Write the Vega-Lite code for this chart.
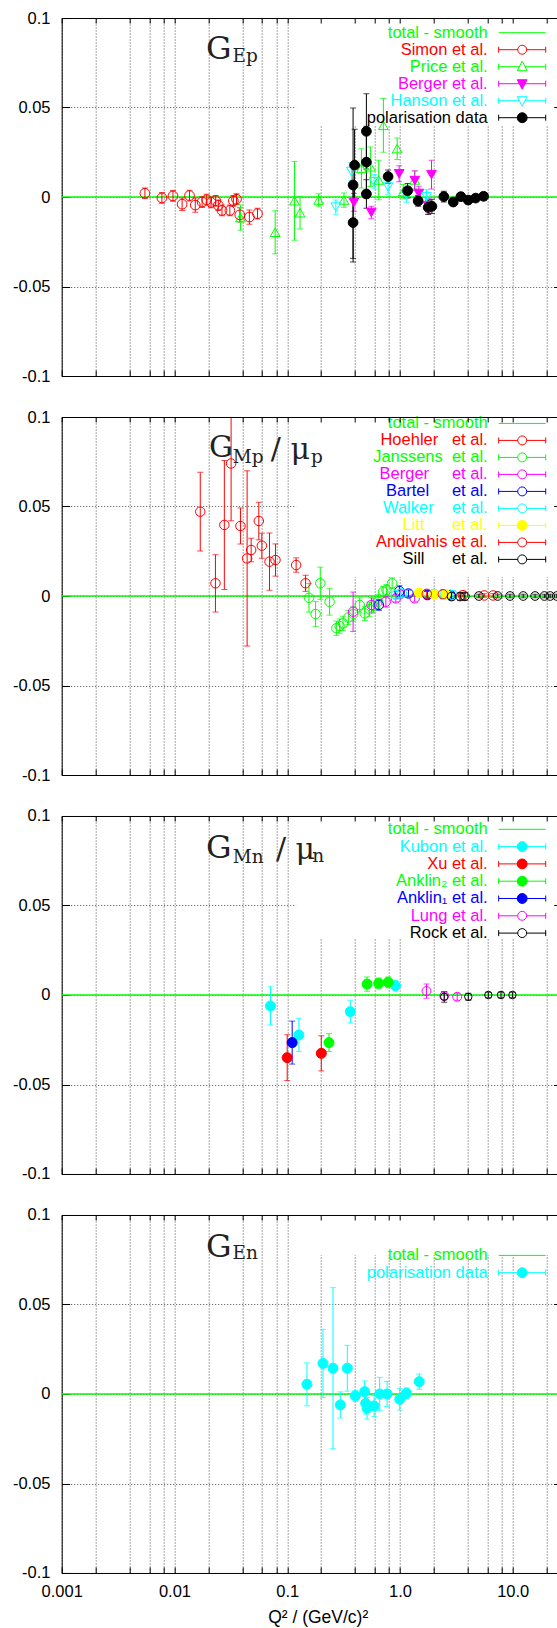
{
  "$schema": "https://vega.github.io/schema/vega-lite/v6.json",
  "padding": {"left": 11.7, "top": 10, "right": 0, "bottom": 1},
  "background": "white",
  "spacing": 41,
  "bounds": "flush",
  "resolve": {"scale": {"color": "independent", "stroke": "independent", "fill": "independent", "shape": "independent"}},
  "config": {
    "view": {"stroke": null},
    "axis": {"labelFont": "Liberation Sans", "labelFontSize": 16.5, "labelColor": "#000", "domainColor": "#000", "domainWidth": 1, "tickColor": "#000", "tickWidth": 1, "gridColor": "#4d4d4d", "gridDash": [1, 2], "gridWidth": 1, "gridOpacity": 1},
    "legend": {"padding": 0, "rowPadding": 0, "symbolSize": 256, "symbolStrokeWidth": 1, "symbolOpacity": 1, "labelAlign": "right", "labelBaseline": "middle", "labelOffset": -43, "labelFont": "Liberation Sans", "labelFontSize": 16.5, "labelLimit": 400}
  },
  "datasets": {
    "p1": [
      {"s":"Simon","q":0.00547,"v":0.0021,"e":0.003},
      {"s":"Simon","q":0.00774,"v":-0.0005,"e":0.003},
      {"s":"Simon","q":0.0097,"v":0.0006,"e":0.003},
      {"s":"Simon","q":0.0117,"v":-0.004,"e":0.0035},
      {"s":"Simon","q":0.0136,"v":0.0008,"e":0.003},
      {"s":"Simon","q":0.0153,"v":-0.0045,"e":0.004},
      {"s":"Simon","q":0.0176,"v":-0.0028,"e":0.003},
      {"s":"Simon","q":0.0193,"v":-0.0015,"e":0.003},
      {"s":"Simon","q":0.0211,"v":-0.003,"e":0.003},
      {"s":"Simon","q":0.0232,"v":-0.0021,"e":0.003},
      {"s":"Simon","q":0.0245,"v":-0.0046,"e":0.003},
      {"s":"Simon","q":0.0264,"v":-0.0075,"e":0.003},
      {"s":"Simon","q":0.031,"v":-0.0075,"e":0.003},
      {"s":"Simon","q":0.0333,"v":-0.0022,"e":0.003},
      {"s":"Simon","q":0.0355,"v":-0.0012,"e":0.003},
      {"s":"Simon","q":0.038,"v":-0.01,"e":0.004},
      {"s":"Simon","q":0.0462,"v":-0.0112,"e":0.004},
      {"s":"Simon","q":0.0545,"v":-0.0093,"e":0.003},
      {"s":"Price","q":0.0385,"v":-0.0115,"e":0.007},
      {"s":"Price","q":0.0782,"v":-0.0197,"e":0.012},
      {"s":"Price","q":0.116,"v":-0.0021,"e":0.022},
      {"s":"Price","q":0.13,"v":-0.0088,"e":0.009},
      {"s":"Price","q":0.19,"v":-0.0017,"e":0.0035},
      {"s":"Price","q":0.319,"v":-0.0017,"e":0.004},
      {"s":"Price","q":0.455,"v":0.016,"e":0.011},
      {"s":"Price","q":0.547,"v":0.0169,"e":0.011},
      {"s":"Price","q":0.648,"v":0.0095,"e":0.011},
      {"s":"Price","q":0.713,"v":0.04,"e":0.015},
      {"s":"Price","q":0.945,"v":0.027,"e":0.006},
      {"s":"Price","q":1.07,"v":0.003,"e":0.004},
      {"s":"Price","q":1.35,"v":0.0095,"e":0.005},
      {"s":"Berger1","q":0.39,"v":-0.003,"e":0.005},
      {"s":"Berger1","q":0.557,"v":-0.0086,"e":0.0035},
      {"s":"Berger1","q":0.984,"v":0.013,"e":0.0045},
      {"s":"Berger1","q":1.355,"v":0.0092,"e":0.0055},
      {"s":"Berger1","q":1.47,"v":0.002,"e":0.004},
      {"s":"Berger1","q":1.78,"v":-0.005,"e":0.004},
      {"s":"Berger1","q":1.905,"v":0.0125,"e":0.008},
      {"s":"Hanson","q":0.27,"v":-0.0056,"e":0.004},
      {"s":"Hanson","q":0.371,"v":0.0143,"e":0.005},
      {"s":"Hanson","q":0.59,"v":0.0085,"e":0.004},
      {"s":"Hanson","q":0.785,"v":0.0056,"e":0.004},
      {"s":"Hanson","q":1.14,"v":0.0011,"e":0.004},
      {"s":"Hanson","q":1.72,"v":0.0001,"e":0.004},
      {"s":"Pol","q":0.384,"v":-0.0143,"e":0.02},
      {"s":"Pol","q":0.384,"v":0.0067,"e":0.043},
      {"s":"Pol","q":0.396,"v":0.0178,"e":0.02},
      {"s":"Pol","q":0.504,"v":0.0367,"e":0.021},
      {"s":"Pol","q":0.504,"v":0.0195,"e":0.02},
      {"s":"Pol","q":0.504,"v":0.0017,"e":0.008},
      {"s":"Pol","q":0.785,"v":0.0114,"e":0.0037},
      {"s":"Pol","q":1.17,"v":0.0035,"e":0.004},
      {"s":"Pol","q":1.45,"v":-0.0022,"e":0.003},
      {"s":"Pol","q":1.78,"v":-0.0058,"e":0.004},
      {"s":"Pol","q":1.92,"v":-0.0052,"e":0.004},
      {"s":"Pol","q":2.45,"v":0.0002,"e":0.003},
      {"s":"Pol","q":2.97,"v":-0.0028,"e":0.002},
      {"s":"Pol","q":3.47,"v":0.0002,"e":0.002},
      {"s":"Pol","q":4.03,"v":-0.0017,"e":0.002},
      {"s":"Pol","q":4.69,"v":-0.0006,"e":0.002},
      {"s":"Pol","q":5.52,"v":0.0004,"e":0.002}
    ],
    "p2": [
      {"s":"Hoehler","q":0.01694,"v":0.0471,"e":0.022},
      {"s":"Hoehler","q":0.0231,"v":0.0071,"e":0.016},
      {"s":"Hoehler","q":0.0277,"v":0.0397,"e":0.036},
      {"s":"Hoehler","q":0.0318,"v":0.074,"e":0.032},
      {"s":"Hoehler","q":0.0385,"v":0.0391,"e":0.01},
      {"s":"Hoehler","q":0.0441,"v":0.021,"e":0.049},
      {"s":"Hoehler","q":0.0479,"v":0.0257,"e":0.0065},
      {"s":"Hoehler","q":0.056,"v":0.0419,"e":0.0105},
      {"s":"Hoehler","q":0.0596,"v":0.0281,"e":0.007},
      {"s":"Hoehler","q":0.0697,"v":0.0192,"e":0.016},
      {"s":"Hoehler","q":0.0787,"v":0.0201,"e":0.009},
      {"s":"Hoehler","q":0.12,"v":0.0173,"e":0.004},
      {"s":"Hoehler","q":0.1455,"v":0.0071,"e":0.0045},
      {"s":"Janssens","q":0.156,"v":-0.001,"e":0.008},
      {"s":"Janssens","q":0.1786,"v":-0.0101,"e":0.007},
      {"s":"Janssens","q":0.1965,"v":0.0071,"e":0.009},
      {"s":"Janssens","q":0.2377,"v":-0.0032,"e":0.0075},
      {"s":"Janssens","q":0.2729,"v":-0.018,"e":0.004},
      {"s":"Janssens","q":0.2918,"v":-0.0168,"e":0.004},
      {"s":"Janssens","q":0.3128,"v":-0.0153,"e":0.004},
      {"s":"Janssens","q":0.3486,"v":-0.012,"e":0.004},
      {"s":"Janssens","q":0.3862,"v":-0.01,"e":0.004},
      {"s":"Janssens","q":0.4395,"v":-0.005,"e":0.004},
      {"s":"Janssens","q":0.4868,"v":-0.0097,"e":0.004},
      {"s":"Janssens","q":0.5358,"v":-0.0074,"e":0.004},
      {"s":"Janssens","q":0.5812,"v":-0.0055,"e":0.004},
      {"s":"Janssens","q":0.6398,"v":-0.0032,"e":0.004},
      {"s":"Janssens","q":0.7096,"v":0.0024,"e":0.003},
      {"s":"Janssens","q":0.7586,"v":0.0034,"e":0.003},
      {"s":"Janssens","q":0.853,"v":0.0071,"e":0.003},
      {"s":"Berger2","q":0.384,"v":-0.0088,"e":0.011},
      {"s":"Berger2","q":0.56,"v":-0.005,"e":0.004},
      {"s":"Berger2","q":0.75,"v":-0.0032,"e":0.003},
      {"s":"Berger2","q":0.92,"v":-0.0013,"e":0.002},
      {"s":"Berger2","q":1.0,"v":0.001,"e":0.002},
      {"s":"Berger2","q":1.35,"v":-0.0013,"e":0.002},
      {"s":"Berger2","q":1.75,"v":0.0005,"e":0.002},
      {"s":"Bartel","q":0.65,"v":-0.005,"e":0.003},
      {"s":"Bartel","q":0.99,"v":0.0027,"e":0.003},
      {"s":"Bartel","q":1.19,"v":0.0014,"e":0.002},
      {"s":"Bartel","q":1.75,"v":0.0006,"e":0.002},
      {"s":"Bartel","q":2.8,"v":0.0006,"e":0.002},
      {"s":"Walker","q":0.92,"v":0.0006,"e":0.002},
      {"s":"Walker","q":1.04,"v":0.0015,"e":0.002},
      {"s":"Walker","q":2.0,"v":0.0012,"e":0.002},
      {"s":"Walker","q":2.5,"v":0.001,"e":0.002},
      {"s":"Walker","q":2.95,"v":0.0006,"e":0.002},
      {"s":"Litt","q":1.48,"v":0.0018,"e":0.002},
      {"s":"Litt","q":2.0,"v":0.0008,"e":0.002},
      {"s":"Litt","q":2.55,"v":0.001,"e":0.002},
      {"s":"Andivahis","q":1.73,"v":0.0012,"e":0.002},
      {"s":"Andivahis","q":2.4,"v":0.001,"e":0.002},
      {"s":"Andivahis","q":3.62,"v":0.0005,"e":0.001},
      {"s":"Andivahis","q":5.6,"v":0.0003,"e":0.001},
      {"s":"Andivahis","q":6.7,"v":0.0003,"e":0.001},
      {"s":"Sill","q":2.87,"v":-0.0003,"e":0.002},
      {"s":"Sill","q":3.41,"v":-0.0003,"e":0.002},
      {"s":"Sill","q":3.77,"v":-0.0002,"e":0.002},
      {"s":"Sill","q":5.01,"v":0,"e":0.001},
      {"s":"Sill","q":7.35,"v":0,"e":0.001},
      {"s":"Sill","q":9.46,"v":0,"e":0.001},
      {"s":"Sill","q":12.4,"v":0,"e":0.001},
      {"s":"Sill","q":15.8,"v":0,"e":0.001},
      {"s":"Sill","q":19.1,"v":0,"e":0.001},
      {"s":"Sill","q":21.5,"v":0,"e":0.001},
      {"s":"Sill","q":24.6,"v":0,"e":0.001}
    ],
    "p3": [
      {"s":"Kubon","q":0.0711,"v":-0.0061,"e":0.0107},
      {"s":"Kubon","q":0.127,"v":-0.0223,"e":0.0093},
      {"s":"Kubon","q":0.363,"v":-0.0093,"e":0.0063},
      {"s":"Kubon","q":0.912,"v":0.0052,"e":0.003},
      {"s":"Xu","q":0.1,"v":-0.035,"e":0.0128},
      {"s":"Xu","q":0.2006,"v":-0.0326,"e":0.0098},
      {"s":"Anklin2","q":0.2348,"v":-0.0266,"e":0.005},
      {"s":"Anklin2","q":0.511,"v":0.0061,"e":0.004},
      {"s":"Anklin2","q":0.648,"v":0.0065,"e":0.003},
      {"s":"Anklin2","q":0.786,"v":0.0071,"e":0.003},
      {"s":"Anklin1","q":0.1107,"v":-0.0266,"e":0.012},
      {"s":"Lung","q":1.72,"v":0.0022,"e":0.004},
      {"s":"Lung","q":2.47,"v":-0.0005,"e":0.002},
      {"s":"Lung","q":3.22,"v":-0.001,"e":0.002},
      {"s":"Rock","q":2.47,"v":-0.001,"e":0.003},
      {"s":"Rock","q":4.04,"v":-0.001,"e":0.002},
      {"s":"Rock","q":6.08,"v":0,"e":0.0015},
      {"s":"Rock","q":7.87,"v":0,"e":0.0015},
      {"s":"Rock","q":9.94,"v":0,"e":0.0015}
    ],
    "p4": [
      {"s":"PolN","q":0.1497,"v":0.0054,"e":0.012},
      {"s":"PolN","q":0.2077,"v":0.0171,"e":0.019},
      {"s":"PolN","q":0.2548,"v":0.0144,"e":0.045},
      {"s":"PolN","q":0.2958,"v":-0.0061,"e":0.0073},
      {"s":"PolN","q":0.3414,"v":0.0144,"e":0.0128},
      {"s":"PolN","q":0.402,"v":-0.0011,"e":0.003},
      {"s":"PolN","q":0.4864,"v":0.0013,"e":0.006},
      {"s":"PolN","q":0.4966,"v":-0.0052,"e":0.006},
      {"s":"PolN","q":0.511,"v":-0.008,"e":0.006},
      {"s":"PolN","q":0.59,"v":-0.0067,"e":0.006},
      {"s":"PolN","q":0.661,"v":0,"e":0.0093},
      {"s":"PolN","q":0.769,"v":0,"e":0.007},
      {"s":"PolN","q":0.996,"v":-0.003,"e":0.006},
      {"s":"PolN","q":1.142,"v":0.0004,"e":0.003},
      {"s":"PolN","q":1.482,"v":0.0069,"e":0.0043}
    ]
  },
  "vconcat": [
    {
      "width": 496, "height": 358,
      "data": {"name": "p1"},
      "resolve": {"axis": {"x": "independent", "y": "independent"}},
      "layer": [
        {
          "data": {"values": [{}]},
          "mark": {"type": "rect", "fill": "white"},
          "encoding": {
            "x": {"datum": 0.12, "type": "quantitative", "scale": {"type": "log", "domain": [0.001, 25.06], "nice": false}, "axis": {"orient": "bottom", "values": [0.001,0.002,0.004,0.006,0.008,0.01,0.02,0.04,0.06,0.08,0.1,0.2,0.4,0.6,0.8,1,2,4,6,8,10,20], "grid": true, "labels": false, "tickSize": -6, "title": null, "zindex": 0}},
            "x2": {"datum": 25.06},
            "y": {"datum": 0.1, "type": "quantitative", "scale": {"domain": [-0.1, 0.1], "nice": false, "zero": false}, "axis": {"orient": "left", "values": [-0.1,-0.05,0,0.05,0.1], "grid": true, "labelExpr": "'' + datum.value", "labelPadding": 19.7, "tickSize": -8, "title": null, "zindex": 0}},
            "y2": {"datum": 0.0402}
          }
        },
        {
          "data": {"values": [{}]},
          "mark": {"type": "rule", "stroke": "#00ff00", "strokeWidth": 1.3},
          "encoding": {
            "x": {"datum": 0.001, "type": "quantitative", "scale": {"type": "log", "domain": [0.001, 25.06], "nice": false}, "axis": {"orient": "top", "values": [0.001,0.002,0.004,0.006,0.008,0.01,0.02,0.04,0.06,0.08,0.1,0.2,0.4,0.6,0.8,1,2,4,6,8,10,20], "grid": false, "labels": false, "tickSize": -5, "title": null, "zindex": 1}},
            "x2": {"datum": 25.06},
            "y": {"datum": 0, "type": "quantitative", "scale": {"domain": [-0.1, 0.1], "nice": false, "zero": false}, "axis": {"orient": "right", "values": [-0.05, 0.05], "grid": false, "labels": false, "domain": false, "tickSize": -4, "title": null, "zindex": 1}}
          }
        },
        {
          "mark": {"type": "errorbar", "ticks": {"size": 6}, "thickness": 1, "clip": true},
          "encoding": {
            "x": {"field": "q", "type": "quantitative", "scale": {"type": "log", "domain": [0.001, 25.06], "nice": false}, "axis": null},
            "y": {"field": "v", "type": "quantitative", "scale": {"domain": [-0.1, 0.1], "nice": false, "zero": false}, "axis": null},
            "yError": {"field": "e"},
            "color": {"field": "s", "type": "nominal", "legend": null, "scale": {"domain": ["Simon","Price","Berger1","Hanson","Pol"], "range": ["#ff0000","#00ff00","#ff00ff","#00ffff","#000000"]}}
          }
        },
        {
          "mark": {"type": "point", "opacity": 1, "strokeWidth": 1, "size": 95, "clip": true},
          "encoding": {
            "x": {"field": "q", "type": "quantitative", "scale": {"type": "log", "domain": [0.001, 25.06], "nice": false}, "axis": null},
            "y": {"field": "v", "type": "quantitative", "scale": {"domain": [-0.1, 0.1], "nice": false, "zero": false}, "axis": null},
            "stroke": {"field": "s", "type": "nominal",
              "scale": {"domain": ["total","Simon","Price","Berger1","Hanson","Pol"], "range": ["#00ff00","#ff0000","#00ff00","#ff00ff","#00ffff","#000000"]},
              "legend": {"title": null, "orient": "none", "legendX": 452, "legendY": 6.2, "symbolSize": 256,
                "labelExpr": "['total - smooth','Simon et al.','Price et al.','Berger et al.','Hanson et al.','polarisation data'][indexof(['total','Simon','Price','Berger1','Hanson','Pol'], datum.value)]",
                "symbolType": {"expr": "['M-2.94,0H2.94','M-2.94,-0.375V0.375M2.94,-0.375V0.375M-2.94,0H-0.56M0.56,0H2.94M0.56,0A0.56,0.56,0,1,1,-0.56,0A0.56,0.56,0,1,1,0.56,0Z','M-2.94,-0.375V0.375M2.94,-0.375V0.375M-2.94,0H-0.36M0.36,0H2.94M0,-0.69L0.62,0.5L-0.62,0.5Z','M-2.94,-0.375V0.375M2.94,-0.375V0.375M-2.94,0H2.94M0,0.69L0.62,-0.5L-0.62,-0.5Z','M-2.94,-0.375V0.375M2.94,-0.375V0.375M-2.94,0H-0.36M0.36,0H2.94M0,0.69L0.62,-0.5L-0.62,-0.5Z','M-2.94,-0.375V0.375M2.94,-0.375V0.375M-2.94,0H2.94M0.62,0A0.62,0.62,0,1,1,-0.62,0A0.62,0.62,0,1,1,0.62,0Z'][indexof(['total','Simon','Price','Berger1','Hanson','Pol'], datum.value)]"},
                "symbolFillColor": {"expr": "['transparent','transparent','transparent','#ff00ff','transparent','#000000'][indexof(['total','Simon','Price','Berger1','Hanson','Pol'], datum.value)]"},
                "labelColor": {"expr": "['#00ff00','#ff0000','#00ff00','#ff00ff','#00ffff','#000000'][indexof(['total','Simon','Price','Berger1','Hanson','Pol'], datum.value)]"}
              }
            },
            "fill": {"field": "s", "type": "nominal", "legend": null, "scale": {"domain": ["Simon","Price","Berger1","Hanson","Pol"], "range": ["transparent","transparent","#ff00ff","transparent","#000000"]}},
            "shape": {"field": "s", "type": "nominal", "legend": null, "scale": {"domain": ["Pol","Simon","Price","Berger1","Hanson"], "range": ["circle","circle","triangle-up","triangle-down","triangle-down"]}}
          }
        },
        {
          "data": {"values": [{}]},
          "mark": {"type": "text", "text": "G", "font": "DejaVu Serif", "fontSize": 32, "align": "left", "baseline": "alphabetic", "color": "#222"},
          "encoding": {
            "x": {"datum": 0.01905, "type": "quantitative", "scale": {"type": "log", "domain": [0.001, 25.06], "nice": false}, "axis": null},
            "y": {"datum": 0.0771, "type": "quantitative", "scale": {"domain": [-0.1, 0.1], "nice": false, "zero": false}, "axis": null}
          }
        },
        {
          "data": {"values": [{}]},
          "mark": {"type": "text", "text": "Ep", "font": "DejaVu Serif", "fontSize": 18.5, "align": "left", "baseline": "alphabetic", "color": "#222"},
          "encoding": {
            "x": {"datum": 0.03273, "type": "quantitative", "scale": {"type": "log", "domain": [0.001, 25.06], "nice": false}, "axis": null},
            "y": {"datum": 0.0754, "type": "quantitative", "scale": {"domain": [-0.1, 0.1], "nice": false, "zero": false}, "axis": null}
          }
        }
      ]
    },
    {
      "width": 496, "height": 358,
      "data": {"name": "p2"},
      "resolve": {"axis": {"x": "independent", "y": "independent"}},
      "layer": [
        {
          "data": {"values": [{}]},
          "mark": {"type": "rect", "fill": "white"},
          "encoding": {
            "x": {"datum": 0.12, "type": "quantitative", "scale": {"type": "log", "domain": [0.001, 25.06], "nice": false}, "axis": {"orient": "bottom", "values": [0.001,0.002,0.004,0.006,0.008,0.01,0.02,0.04,0.06,0.08,0.1,0.2,0.4,0.6,0.8,1,2,4,6,8,10,20], "grid": true, "labels": false, "tickSize": -6, "title": null, "zindex": 0}},
            "x2": {"datum": 25.06},
            "y": {"datum": 0.1, "type": "quantitative", "scale": {"domain": [-0.1, 0.1], "nice": false, "zero": false}, "axis": {"orient": "left", "values": [-0.1,-0.05,0,0.05,0.1], "grid": true, "labelExpr": "'' + datum.value", "labelPadding": 19.7, "tickSize": -8, "title": null, "zindex": 0}},
            "y2": {"datum": 0.0106}
          }
        },
        {
          "data": {"values": [{}]},
          "mark": {"type": "rule", "stroke": "#00ff00", "strokeWidth": 1.3},
          "encoding": {
            "x": {"datum": 0.001, "type": "quantitative", "scale": {"type": "log", "domain": [0.001, 25.06], "nice": false}, "axis": {"orient": "top", "values": [0.001,0.002,0.004,0.006,0.008,0.01,0.02,0.04,0.06,0.08,0.1,0.2,0.4,0.6,0.8,1,2,4,6,8,10,20], "grid": false, "labels": false, "tickSize": -5, "title": null, "zindex": 1}},
            "x2": {"datum": 25.06},
            "y": {"datum": 0, "type": "quantitative", "scale": {"domain": [-0.1, 0.1], "nice": false, "zero": false}, "axis": {"orient": "right", "values": [-0.05, 0.05], "grid": false, "labels": false, "domain": false, "tickSize": -4, "title": null, "zindex": 1}}
          }
        },
        {
          "mark": {"type": "errorbar", "ticks": {"size": 6}, "thickness": 1, "clip": true},
          "encoding": {
            "x": {"field": "q", "type": "quantitative", "scale": {"type": "log", "domain": [0.001, 25.06], "nice": false}, "axis": null},
            "y": {"field": "v", "type": "quantitative", "scale": {"domain": [-0.1, 0.1], "nice": false, "zero": false}, "axis": null},
            "yError": {"field": "e"},
            "color": {"field": "s", "type": "nominal", "legend": null, "scale": {"domain": ["Hoehler","Janssens","Berger2","Bartel","Walker","Litt","Andivahis","Sill"], "range": ["#ff0000","#00ff00","#ff00ff","#0000ff","#00ffff","#ffff00","#ff0000","#000000"]}}
          }
        },
        {
          "mark": {"type": "point", "opacity": 1, "strokeWidth": 1, "clip": true},
          "encoding": {
            "x": {"field": "q", "type": "quantitative", "scale": {"type": "log", "domain": [0.001, 25.06], "nice": false}, "axis": null},
            "y": {"field": "v", "type": "quantitative", "scale": {"domain": [-0.1, 0.1], "nice": false, "zero": false}, "axis": null},
            "size": {"condition": {"test": "datum.s == 'Sill'", "value": 75}, "value": 90},
            "stroke": {"field": "s", "type": "nominal",
              "scale": {"domain": ["total","Hoehler","Janssens","Berger2","Bartel","Walker","Litt","Andivahis","Sill"], "range": ["#00ff00","#ff0000","#00ff00","#ff00ff","#0000ff","#00ffff","#ffff00","#ff0000","#000000"]},
              "legend": {"title": null, "orient": "none", "legendX": 452, "legendY": -2.1, "symbolSize": 256,
                "labelExpr": "['total - smooth','Hoehler\u00a0\u00a0\u00a0et al.','Janssens\u00a0\u00a0et al.','Berger\u00a0\u00a0\u00a0\u00a0\u00a0et al.','Bartel\u00a0\u00a0\u00a0\u00a0\u00a0et al.','Walker\u00a0\u00a0\u00a0\u00a0et al.','Litt\u00a0\u00a0\u00a0\u00a0\u00a0\u00a0et al.','Andivahis\u00a0et al.','Sill\u00a0\u00a0\u00a0\u00a0\u00a0\u00a0et al.'][indexof(['total','Hoehler','Janssens','Berger2','Bartel','Walker','Litt','Andivahis','Sill'], datum.value)]",
                "symbolType": {"expr": "datum.value == 'total' ? 'M-2.94,0H2.94' : datum.value == 'Litt' ? 'M-2.94,-0.375V0.375M2.94,-0.375V0.375M-2.94,0H2.94M0.62,0A0.62,0.62,0,1,1,-0.62,0A0.62,0.62,0,1,1,0.62,0Z' : 'M-2.94,-0.375V0.375M2.94,-0.375V0.375M-2.94,0H-0.56M0.56,0H2.94M0.56,0A0.56,0.56,0,1,1,-0.56,0A0.56,0.56,0,1,1,0.56,0Z'"},
                "symbolFillColor": {"expr": "datum.value == 'Litt' ? '#ffff00' : 'transparent'"},
                "labelColor": {"expr": "['#00ff00','#ff0000','#00ff00','#ff00ff','#0000ff','#00ffff','#ffff00','#ff0000','#000000'][indexof(['total','Hoehler','Janssens','Berger2','Bartel','Walker','Litt','Andivahis','Sill'], datum.value)]"}
              }
            },
            "fill": {"field": "s", "type": "nominal", "legend": null, "scale": {"domain": ["Hoehler","Janssens","Berger2","Bartel","Walker","Litt","Andivahis","Sill"], "range": ["transparent","transparent","transparent","transparent","transparent","#ffff00","transparent","transparent"]}}
          }
        },
        {
          "data": {"values": [{}]},
          "mark": {"type": "text", "text": "G", "font": "DejaVu Serif", "fontSize": 30, "align": "left", "baseline": "alphabetic", "color": "#222"},
          "encoding": {
            "x": {"datum": 0.02025, "type": "quantitative", "scale": {"type": "log", "domain": [0.001, 25.06], "nice": false}, "axis": null},
            "y": {"datum": 0.0777, "type": "quantitative", "scale": {"domain": [-0.1, 0.1], "nice": false, "zero": false}, "axis": null}
          }
        },
        {
          "data": {"values": [{}]},
          "mark": {"type": "text", "text": "Mp", "font": "DejaVu Serif", "fontSize": 18.5, "align": "left", "baseline": "alphabetic", "color": "#222"},
          "encoding": {
            "x": {"datum": 0.0329, "type": "quantitative", "scale": {"type": "log", "domain": [0.001, 25.06], "nice": false}, "axis": null},
            "y": {"datum": 0.0743, "type": "quantitative", "scale": {"domain": [-0.1, 0.1], "nice": false, "zero": false}, "axis": null}
          }
        },
        {
          "data": {"values": [{}]},
          "mark": {"type": "text", "text": "/ μ", "font": "DejaVu Serif", "fontSize": 30, "align": "left", "baseline": "alphabetic", "color": "#222"},
          "encoding": {
            "x": {"datum": 0.0715, "type": "quantitative", "scale": {"type": "log", "domain": [0.001, 25.06], "nice": false}, "axis": null},
            "y": {"datum": 0.0765, "type": "quantitative", "scale": {"domain": [-0.1, 0.1], "nice": false, "zero": false}, "axis": null}
          }
        },
        {
          "data": {"values": [{}]},
          "mark": {"type": "text", "text": "p", "font": "DejaVu Serif", "fontSize": 18.5, "align": "left", "baseline": "alphabetic", "color": "#222"},
          "encoding": {
            "x": {"datum": 0.163, "type": "quantitative", "scale": {"type": "log", "domain": [0.001, 25.06], "nice": false}, "axis": null},
            "y": {"datum": 0.0743, "type": "quantitative", "scale": {"domain": [-0.1, 0.1], "nice": false, "zero": false}, "axis": null}
          }
        }
      ]
    },
    {
      "width": 496, "height": 358,
      "data": {"name": "p3"},
      "resolve": {"axis": {"x": "independent", "y": "independent"}},
      "layer": [
        {
          "data": {"values": [{}]},
          "mark": {"type": "rect", "fill": "white"},
          "encoding": {
            "x": {"datum": 0.12, "type": "quantitative", "scale": {"type": "log", "domain": [0.001, 25.06], "nice": false}, "axis": {"orient": "bottom", "values": [0.001,0.002,0.004,0.006,0.008,0.01,0.02,0.04,0.06,0.08,0.1,0.2,0.4,0.6,0.8,1,2,4,6,8,10,20], "grid": true, "labels": false, "tickSize": -6, "title": null, "zindex": 0}},
            "x2": {"datum": 25.06},
            "y": {"datum": 0.1, "type": "quantitative", "scale": {"domain": [-0.1, 0.1], "nice": false, "zero": false}, "axis": {"orient": "left", "values": [-0.1,-0.05,0,0.05,0.1], "grid": true, "labelExpr": "'' + datum.value", "labelPadding": 19.7, "tickSize": -8, "title": null, "zindex": 0}},
            "y2": {"datum": 0.0318}
          }
        },
        {
          "data": {"values": [{}]},
          "mark": {"type": "rule", "stroke": "#00ff00", "strokeWidth": 1.3},
          "encoding": {
            "x": {"datum": 0.001, "type": "quantitative", "scale": {"type": "log", "domain": [0.001, 25.06], "nice": false}, "axis": {"orient": "top", "values": [0.001,0.002,0.004,0.006,0.008,0.01,0.02,0.04,0.06,0.08,0.1,0.2,0.4,0.6,0.8,1,2,4,6,8,10,20], "grid": false, "labels": false, "tickSize": -5, "title": null, "zindex": 1}},
            "x2": {"datum": 25.06},
            "y": {"datum": 0, "type": "quantitative", "scale": {"domain": [-0.1, 0.1], "nice": false, "zero": false}, "axis": {"orient": "right", "values": [-0.05, 0.05], "grid": false, "labels": false, "domain": false, "tickSize": -4, "title": null, "zindex": 1}}
          }
        },
        {
          "mark": {"type": "errorbar", "ticks": {"size": 6}, "thickness": 1, "clip": true},
          "encoding": {
            "x": {"field": "q", "type": "quantitative", "scale": {"type": "log", "domain": [0.001, 25.06], "nice": false}, "axis": null},
            "y": {"field": "v", "type": "quantitative", "scale": {"domain": [-0.1, 0.1], "nice": false, "zero": false}, "axis": null},
            "yError": {"field": "e"},
            "color": {"field": "s", "type": "nominal", "legend": null, "scale": {"domain": ["Kubon","Xu","Anklin2","Anklin1","Lung","Rock"], "range": ["#00ffff","#ff0000","#00ff00","#0000ff","#ff00ff","#000000"]}}
          }
        },
        {
          "mark": {"type": "point", "opacity": 1, "strokeWidth": 1, "clip": true},
          "encoding": {
            "x": {"field": "q", "type": "quantitative", "scale": {"type": "log", "domain": [0.001, 25.06], "nice": false}, "axis": null},
            "y": {"field": "v", "type": "quantitative", "scale": {"domain": [-0.1, 0.1], "nice": false, "zero": false}, "axis": null},
            "size": {"condition": [{"test": "datum.s == 'Rock'", "value": 55}, {"test": "datum.s == 'Lung'", "value": 80}], "value": 100},
            "stroke": {"field": "s", "type": "nominal",
              "scale": {"domain": ["total","Kubon","Xu","Anklin2","Anklin1","Lung","Rock"], "range": ["#00ff00","#00ffff","#ff0000","#00ff00","#0000ff","#ff00ff","#000000"]},
              "legend": {"title": null, "orient": "none", "legendX": 452, "legendY": 4.8, "symbolSize": 256, "rowPadding": 0.3,
                "labelExpr": "['total - smooth','Kubon et al.\u00a0\u00a0\u00a0\u00a0','Xu et al.\u00a0\u00a0\u00a0\u00a0\u00a0\u00a0\u00a0','Anklin\u2082 et al.\u00a0','Anklin\u2081 et al.\u00a0','Lung et al.\u00a0\u00a0\u00a0\u00a0\u00a0','Rock et al.\u00a0\u00a0\u00a0\u00a0\u00a0'][indexof(['total','Kubon','Xu','Anklin2','Anklin1','Lung','Rock'], datum.value)]",
                "symbolType": {"expr": "datum.value == 'total' ? 'M-2.94,0H2.94' : (datum.value == 'Lung' || datum.value == 'Rock') ? 'M-2.94,-0.375V0.375M2.94,-0.375V0.375M-2.94,0H-0.56M0.56,0H2.94M0.56,0A0.56,0.56,0,1,1,-0.56,0A0.56,0.56,0,1,1,0.56,0Z' : 'M-2.94,-0.375V0.375M2.94,-0.375V0.375M-2.94,0H2.94M0.62,0A0.62,0.62,0,1,1,-0.62,0A0.62,0.62,0,1,1,0.62,0Z'"},
                "symbolFillColor": {"expr": "['transparent','#00ffff','#ff0000','#00ff00','#0000ff','transparent','transparent'][indexof(['total','Kubon','Xu','Anklin2','Anklin1','Lung','Rock'], datum.value)]"},
                "labelColor": {"expr": "['#00ff00','#00ffff','#ff0000','#00ff00','#0000ff','#ff00ff','#000000'][indexof(['total','Kubon','Xu','Anklin2','Anklin1','Lung','Rock'], datum.value)]"}
              }
            },
            "fill": {"field": "s", "type": "nominal", "legend": null, "scale": {"domain": ["Kubon","Xu","Anklin2","Anklin1","Lung","Rock"], "range": ["#00ffff","#ff0000","#00ff00","#0000ff","transparent","transparent"]}}
          }
        },
        {
          "data": {"values": [{}]},
          "mark": {"type": "text", "text": "G", "font": "DejaVu Serif", "fontSize": 32, "align": "left", "baseline": "alphabetic", "color": "#222"},
          "encoding": {
            "x": {"datum": 0.01905, "type": "quantitative", "scale": {"type": "log", "domain": [0.001, 25.06], "nice": false}, "axis": null},
            "y": {"datum": 0.0765, "type": "quantitative", "scale": {"domain": [-0.1, 0.1], "nice": false, "zero": false}, "axis": null}
          }
        },
        {
          "data": {"values": [{}]},
          "mark": {"type": "text", "text": "Mn", "font": "DejaVu Serif", "fontSize": 18.5, "align": "left", "baseline": "alphabetic", "color": "#222"},
          "encoding": {
            "x": {"datum": 0.0329, "type": "quantitative", "scale": {"type": "log", "domain": [0.001, 25.06], "nice": false}, "axis": null},
            "y": {"datum": 0.0737, "type": "quantitative", "scale": {"domain": [-0.1, 0.1], "nice": false, "zero": false}, "axis": null}
          }
        },
        {
          "data": {"values": [{}]},
          "mark": {"type": "text", "text": "/ μ", "font": "DejaVu Serif", "fontSize": 30, "align": "left", "baseline": "alphabetic", "color": "#222"},
          "encoding": {
            "x": {"datum": 0.0795, "type": "quantitative", "scale": {"type": "log", "domain": [0.001, 25.06], "nice": false}, "axis": null},
            "y": {"datum": 0.076, "type": "quantitative", "scale": {"domain": [-0.1, 0.1], "nice": false, "zero": false}, "axis": null}
          }
        },
        {
          "data": {"values": [{}]},
          "mark": {"type": "text", "text": "n", "font": "DejaVu Serif", "fontSize": 18.5, "align": "left", "baseline": "alphabetic", "color": "#222"},
          "encoding": {
            "x": {"datum": 0.167, "type": "quantitative", "scale": {"type": "log", "domain": [0.001, 25.06], "nice": false}, "axis": null},
            "y": {"datum": 0.0743, "type": "quantitative", "scale": {"domain": [-0.1, 0.1], "nice": false, "zero": false}, "axis": null}
          }
        }
      ]
    },
    {
      "width": 496, "height": 358,
      "data": {"name": "p4"},
      "resolve": {"axis": {"x": "independent", "y": "independent"}},
      "layer": [
        {
          "data": {"values": [{}]},
          "mark": {"type": "rect", "fill": "white"},
          "encoding": {
            "x": {"datum": 0.12, "type": "quantitative", "scale": {"type": "log", "domain": [0.001, 25.06], "nice": false}, "axis": {"orient": "bottom", "values": [0.001,0.002,0.004,0.006,0.008,0.01,0.02,0.04,0.06,0.08,0.1,0.2,0.4,0.6,0.8,1,2,4,6,8,10,20], "grid": true, "labels": true, "labelFlush": false, "labelOverlap": false, "labelPadding": 16.5, "labelExpr": "datum.value == 0.001 ? '0.001' : datum.value == 0.01 ? '0.01' : datum.value == 0.1 ? '0.1' : datum.value == 1 ? '1.0' : datum.value == 10 ? '10.0' : ''", "tickSize": -6, "title": "Q² / (GeV/c)²", "titleX": 256, "titleY": 36, "titleBaseline": "top", "titleAlign": "center", "titleFont": "Liberation Sans", "titleFontSize": 17.5, "titleFontWeight": "normal", "titleColor": "#000", "zindex": 0}},
            "x2": {"datum": 25.06},
            "y": {"datum": 0.1, "type": "quantitative", "scale": {"domain": [-0.1, 0.1], "nice": false, "zero": false}, "axis": {"orient": "left", "values": [-0.1,-0.05,0,0.05,0.1], "grid": true, "labelExpr": "'' + datum.value", "labelPadding": 19.7, "tickSize": -8, "title": null, "zindex": 0}},
            "y2": {"datum": 0.0777}
          }
        },
        {
          "data": {"values": [{}]},
          "mark": {"type": "rule", "stroke": "#00ff00", "strokeWidth": 1.3},
          "encoding": {
            "x": {"datum": 0.001, "type": "quantitative", "scale": {"type": "log", "domain": [0.001, 25.06], "nice": false}, "axis": {"orient": "top", "values": [0.001,0.002,0.004,0.006,0.008,0.01,0.02,0.04,0.06,0.08,0.1,0.2,0.4,0.6,0.8,1,2,4,6,8,10,20], "grid": false, "labels": false, "tickSize": -5, "title": null, "zindex": 1}},
            "x2": {"datum": 25.06},
            "y": {"datum": 0, "type": "quantitative", "scale": {"domain": [-0.1, 0.1], "nice": false, "zero": false}, "axis": {"orient": "right", "values": [-0.05, 0.05], "grid": false, "labels": false, "domain": false, "tickSize": -4, "title": null, "zindex": 1}}
          }
        },
        {
          "mark": {"type": "errorbar", "ticks": {"size": 6}, "thickness": 1, "clip": true},
          "encoding": {
            "x": {"field": "q", "type": "quantitative", "scale": {"type": "log", "domain": [0.001, 25.06], "nice": false}, "axis": null},
            "y": {"field": "v", "type": "quantitative", "scale": {"domain": [-0.1, 0.1], "nice": false, "zero": false}, "axis": null},
            "yError": {"field": "e"},
            "color": {"field": "s", "type": "nominal", "legend": null, "scale": {"domain": ["PolN"], "range": ["#00ffff"]}}
          }
        },
        {
          "mark": {"type": "point", "opacity": 1, "strokeWidth": 1, "size": 100, "fill": "#00ffff", "filled": true, "clip": true},
          "encoding": {
            "x": {"field": "q", "type": "quantitative", "scale": {"type": "log", "domain": [0.001, 25.06], "nice": false}, "axis": null},
            "y": {"field": "v", "type": "quantitative", "scale": {"domain": [-0.1, 0.1], "nice": false, "zero": false}, "axis": null},
            "stroke": {"field": "s", "type": "nominal",
              "scale": {"domain": ["total","PolN"], "range": ["#00ff00","#00ffff"]},
              "legend": {"title": null, "orient": "none", "legendX": 452, "legendY": 31.9, "symbolSize": 256, "rowPadding": 0.3,
                "labelExpr": "datum.value == 'total' ? 'total - smooth' : 'polarisation data'",
                "symbolType": {"expr": "datum.value == 'total' ? 'M-2.94,0H2.94' : 'M-2.94,-0.375V0.375M2.94,-0.375V0.375M-2.94,0H2.94M0.62,0A0.62,0.62,0,1,1,-0.62,0A0.62,0.62,0,1,1,0.62,0Z'"},
                "symbolFillColor": {"expr": "datum.value == 'total' ? 'transparent' : '#00ffff'"},
                "labelColor": {"expr": "datum.value == 'total' ? '#00ff00' : '#00ffff'"}
              }
            }
          }
        },
        {
          "data": {"values": [{}]},
          "mark": {"type": "text", "text": "G", "font": "DejaVu Serif", "fontSize": 32, "align": "left", "baseline": "alphabetic", "color": "#222"},
          "encoding": {
            "x": {"datum": 0.01905, "type": "quantitative", "scale": {"type": "log", "domain": [0.001, 25.06], "nice": false}, "axis": null},
            "y": {"datum": 0.0767, "type": "quantitative", "scale": {"domain": [-0.1, 0.1], "nice": false, "zero": false}, "axis": null}
          }
        },
        {
          "data": {"values": [{}]},
          "mark": {"type": "text", "text": "En", "font": "DejaVu Serif", "fontSize": 18.5, "align": "left", "baseline": "alphabetic", "color": "#222"},
          "encoding": {
            "x": {"datum": 0.03273, "type": "quantitative", "scale": {"type": "log", "domain": [0.001, 25.06], "nice": false}, "axis": null},
            "y": {"datum": 0.0754, "type": "quantitative", "scale": {"domain": [-0.1, 0.1], "nice": false, "zero": false}, "axis": null}
          }
        }
      ]
    }
  ]
}
